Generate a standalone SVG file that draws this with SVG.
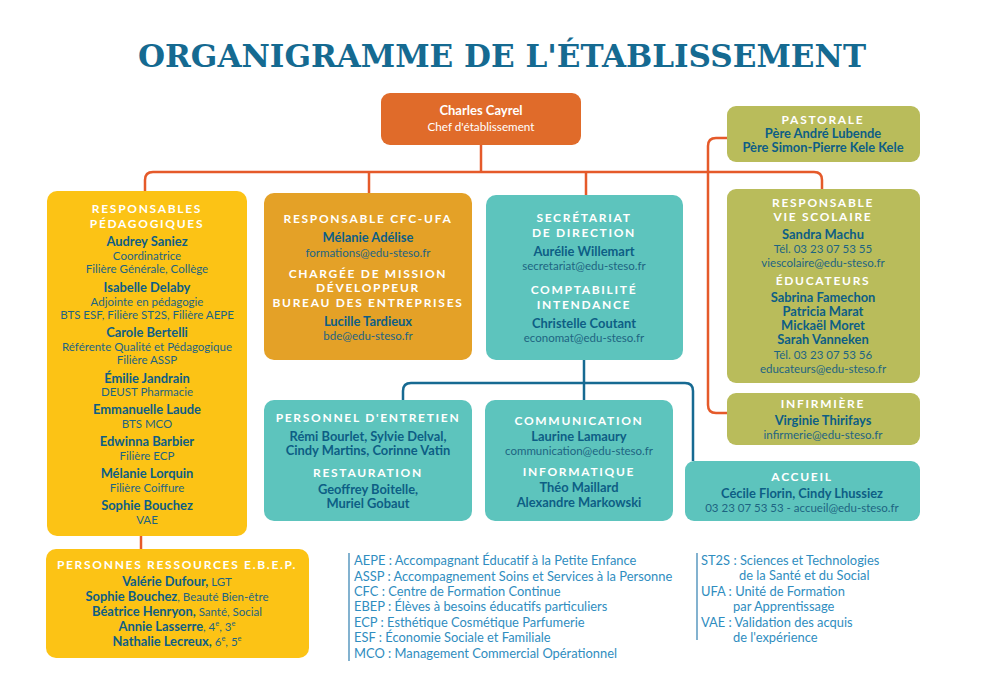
<svg xmlns="http://www.w3.org/2000/svg" width="981" height="697" viewBox="0 0 981 697">
<style>
text{font-family:Lato,"Liberation Sans",sans-serif;text-anchor:middle}
.title{font-family:"DejaVu Serif","Liberation Serif",serif;font-weight:900;font-size:31px;fill:#156a91}
.h{fill:#fff;font-weight:700;font-size:12px;letter-spacing:1.7px}
.n{fill:#0d5e85;font-weight:700;font-size:12.9px}
.s{fill:#1d6482;font-weight:400;font-size:11.5px}
.w{fill:#fff}
.lg{fill:#2f8dc0;font-size:12.9px;text-anchor:start}
.or{fill:none;stroke:#e55a2a;stroke-width:2.5}
.bl{fill:none;stroke:#176a92;stroke-width:2.5}
.yel{fill:#fcc315}
.amb{fill:#e4a127}
.teal{fill:#5dc4bd}
.olv{fill:#b9bc5b}
.sup{font-size:7.5px}
</style>
<rect width="981" height="697" fill="#fff"/>
<text class="title" x="502" y="67" textLength="728" lengthAdjust="spacingAndGlyphs">ORGANIGRAMME DE L'ÉTABLISSEMENT</text>

<g id="connectors">
<path class="or" d="M481,145 V172"/>
<path class="or" d="M145,191 V180 Q145,172 153,172 H814 Q822,172 822,180 V189"/>
<path class="or" d="M369,172 V193 M586,172 V195"/>
<path class="or" d="M727,138 H716 Q708,138 708,146 V405 Q708,413 716,413 H727"/>
<path class="or" d="M141,536 V549"/>
<path class="bl" d="M584,360 V400"/>
<path class="bl" d="M403,400 V391 Q403,383 411,383 H685 Q693,383 693,391 V461"/>
</g>

<g id="chef">
<rect x="381" y="93" width="200" height="52" rx="9" fill="#e06b2a"/>
<text x="481" y="115" class="w" font-weight="700" font-size="13">Charles Cayrel</text>
<text x="481" y="131" class="w" font-size="11.7">Chef d'établissement</text>
</g>

<g id="pedagogie">
<rect class="yel" x="47" y="191" width="200" height="345" rx="10"/>
<text class="h" x="147" y="213">RESPONSABLES</text>
<text class="h" x="147" y="228">PÉDAGOGIQUES</text>
<text class="n" x="147" y="246">Audrey Saniez</text>
<text class="s" x="147" y="259.5">Coordinatrice</text>
<text class="s" x="147" y="273">Filière Générale, Collège</text>
<text class="n" x="147" y="292">Isabelle Delaby</text>
<text class="s" x="147" y="305.5">Adjointe en pédagogie</text>
<text class="s" x="147" y="318.5">BTS ESF, Filière ST2S, Filière AEPE</text>
<text class="n" x="147" y="337">Carole Bertelli</text>
<text class="s" x="147" y="351">Référente Qualité et Pédagogique</text>
<text class="s" x="147" y="364">Filière ASSP</text>
<text class="n" x="147" y="382.5">Émilie Jandrain</text>
<text class="s" x="147" y="396">DEUST Pharmacie</text>
<text class="n" x="147" y="414">Emmanuelle Laude</text>
<text class="s" x="147" y="427.5">BTS MCO</text>
<text class="n" x="147" y="446">Edwinna Barbier</text>
<text class="s" x="147" y="459.5">Filière ECP</text>
<text class="n" x="147" y="478">Mélanie Lorquin</text>
<text class="s" x="147" y="491.5">Filière Coiffure</text>
<text class="n" x="147" y="510">Sophie Bouchez</text>
<text class="s" x="147" y="523.5">VAE</text>
</g>

<g id="ebep">
<rect class="yel" x="46" y="549" width="263" height="109" rx="10"/>
<text class="h" x="177" y="569" letter-spacing="2.5">PERSONNES RESSOURCES E.B.E.P.</text>
<text class="n" x="177" y="586">Valérie Dufour,<tspan class="s" font-size="12.5"> LGT</tspan></text>
<text class="n" x="177" y="601">Sophie Bouchez<tspan class="s" font-size="12.5">, Beauté Bien-être</tspan></text>
<text class="n" x="177" y="616">Béatrice Henryon,<tspan class="s" font-size="12.5"> Santé, Social</tspan></text>
<text class="n" x="177" y="631">Annie Lasserre<tspan class="s" font-size="12.5">, 4<tspan class="sup" dy="-5">e</tspan><tspan dy="5">, 3</tspan><tspan class="sup" dy="-5">e</tspan></tspan></text>
<text class="n" x="177" y="646">Nathalie Lecreux,<tspan class="s" font-size="12.5"> 6<tspan class="sup" dy="-5">e</tspan><tspan dy="5">, 5</tspan><tspan class="sup" dy="-5">e</tspan></tspan></text>
</g>

<g id="cfc-ufa">
<rect class="amb" x="264" y="193" width="208" height="167" rx="10"/>
<text class="h" x="368" y="223">RESPONSABLE CFC-UFA</text>
<text class="n" x="368" y="242">Mélanie Adélise</text>
<text class="s" x="368" y="257">formations@edu-steso.fr</text>
<text class="h" x="368" y="278">CHARGÉE DE MISSION</text>
<text class="h" x="368" y="292">DÉVELOPPEUR</text>
<text class="h" x="368" y="307">BUREAU DES ENTREPRISES</text>
<text class="n" x="368" y="326">Lucille Tardieux</text>
<text class="s" x="368" y="340">bde@edu-steso.fr</text>
</g>

<g id="secretariat">
<rect class="teal" x="486" y="195" width="197" height="165" rx="10"/>
<text class="h" x="584" y="222">SECRÉTARIAT</text>
<text class="h" x="584" y="237">DE DIRECTION</text>
<text class="n" x="584" y="256">Aurélie Willemart</text>
<text class="s" x="584" y="270">secretariat@edu-steso.fr</text>
<text class="h" x="584" y="294">COMPTABILITÉ</text>
<text class="h" x="584" y="309">INTENDANCE</text>
<text class="n" x="584" y="328">Christelle Coutant</text>
<text class="s" x="584" y="342">economat@edu-steso.fr</text>
</g>

<g id="pastorale">
<rect class="olv" x="727" y="106" width="193" height="56" rx="9"/>
<text class="h" x="823" y="124">PASTORALE</text>
<text class="n" x="823" y="138">Père André Lubende</text>
<text class="n" x="823" y="152">Père Simon-Pierre Kele Kele</text>
</g>

<g id="vie-scolaire">
<rect class="olv" x="727" y="189" width="193" height="194" rx="9"/>
<text class="h" x="823" y="207">RESPONSABLE</text>
<text class="h" x="823" y="221">VIE SCOLAIRE</text>
<text class="n" x="823" y="239">Sandra Machu</text>
<text class="s" x="823" y="253">Tél. 03 23 07 53 55</text>
<text class="s" x="823" y="267">viescolaire@edu-steso.fr</text>
<text class="h" x="823" y="285">ÉDUCATEURS</text>
<text class="n" x="823" y="302">Sabrina Famechon</text>
<text class="n" x="823" y="316">Patricia Marat</text>
<text class="n" x="823" y="330">Mickaël Moret</text>
<text class="n" x="823" y="344">Sarah Vanneken</text>
<text class="s" x="823" y="359">Tél. 03 23 07 53 56</text>
<text class="s" x="823" y="373">educateurs@edu-steso.fr</text>
</g>

<g id="infirmiere">
<rect class="olv" x="727" y="393" width="193" height="52" rx="9"/>
<text class="h" x="823" y="408">INFIRMIÈRE</text>
<text class="n" x="823" y="425">Virginie Thirifays</text>
<text class="s" x="823" y="439">infirmerie@edu-steso.fr</text>
</g>

<g id="accueil">
<rect class="teal" x="685" y="461" width="235" height="60" rx="9"/>
<text class="h" x="802" y="481">ACCUEIL</text>
<text class="n" x="802" y="498">Cécile Florin, Cindy Lhussiez</text>
<text class="s" x="802" y="512">03 23 07 53 53 - accueil@edu-steso.fr</text>
</g>

<g id="entretien">
<rect class="teal" x="264" y="400" width="208" height="121" rx="10"/>
<text class="h" x="368" y="422">PERSONNEL D'ENTRETIEN</text>
<text class="n" x="368" y="441">Rémi Bourlet, Sylvie Delval,</text>
<text class="n" x="368" y="455">Cindy Martins, Corinne Vatin</text>
<text class="h" x="368" y="477">RESTAURATION</text>
<text class="n" x="368" y="494">Geoffrey Boitelle,</text>
<text class="n" x="368" y="508">Muriel Gobaut</text>
</g>

<g id="communication">
<rect class="teal" x="485" y="400" width="188" height="121" rx="10"/>
<text class="h" x="579" y="425">COMMUNICATION</text>
<text class="n" x="579" y="441">Laurine Lamaury</text>
<text class="s" x="579" y="455">communication@edu-steso.fr</text>
<text class="h" x="579" y="476">INFORMATIQUE</text>
<text class="n" x="579" y="492">Théo Maillard</text>
<text class="n" x="579" y="507">Alexandre Markowski</text>
</g>

<g id="legend">
<line x1="349" y1="553" x2="349" y2="661" stroke="#2f7fb0" stroke-width="1.2"/>
<line x1="697" y1="553" x2="697" y2="640" stroke="#2f7fb0" stroke-width="1.2"/>
<text class="lg" x="354" y="565">AEPE : Accompagnant Éducatif à la Petite Enfance</text>
<text class="lg" x="354" y="581">ASSP : Accompagnement Soins et Services à la Personne</text>
<text class="lg" x="354" y="596">CFC : Centre de Formation Continue</text>
<text class="lg" x="354" y="611">EBEP : Élèves à besoins éducatifs particuliers</text>
<text class="lg" x="354" y="627">ECP : Esthétique Cosmétique Parfumerie</text>
<text class="lg" x="354" y="642">ESF : Économie Sociale et Familiale</text>
<text class="lg" x="354" y="658">MCO : Management Commercial Opérationnel</text>
<text class="lg" x="701" y="565">ST2S : Sciences et Technologies</text>
<text class="lg" x="739" y="580">de la Santé et du Social</text>
<text class="lg" x="701" y="596">UFA : Unité de Formation</text>
<text class="lg" x="733" y="611">par Apprentissage</text>
<text class="lg" x="701" y="627">VAE : Validation des acquis</text>
<text class="lg" x="733" y="642">de l'expérience</text>
</g>
</svg>
